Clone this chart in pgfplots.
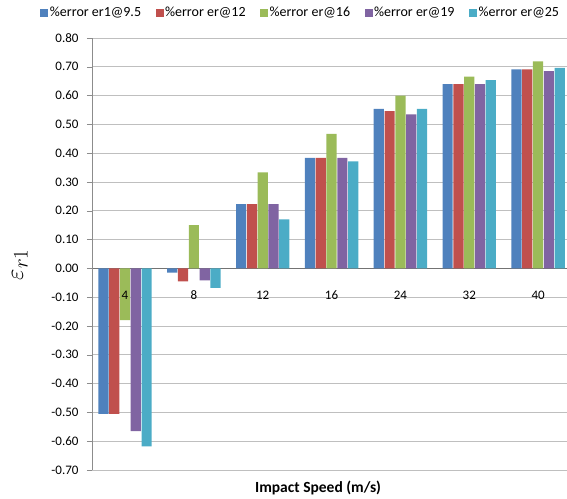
\documentclass[border=0pt]{standalone}
\usepackage{pgfplots}
\pgfplotsset{compat=1.18}
\usepackage{fontspec}
\setmainfont{Carlito}
\definecolor{c1}{HTML}{4F81BD}
\definecolor{c2}{HTML}{C0504D}
\definecolor{c3}{HTML}{9BBB59}
\definecolor{c4}{HTML}{8064A2}
\definecolor{c5}{HTML}{4BACC6}
\begin{document}
\begin{tikzpicture}
\begin{axis}[
  set layers,
  scale only axis, width=475pt, height=432pt,
  xmin=0.52, xmax=7.42, ymin=-0.7, ymax=0.8,
  ybar=0.6pt, bar width=10.2pt,
  axis x line=middle, axis y line=left,
  axis line style={-},
  x axis line style={draw=black!55},
  y axis line style={draw=black!45},
  xtick={1,...,7}, xticklabels={},
  xtick style={draw=none},
  ytick={-0.7,-0.6,-0.5,-0.4,-0.3,-0.2,-0.1,0,0.1,0.2,0.3,0.4,0.5,0.6,0.7,0.8},
  /pgf/number format/fixed, /pgf/number format/fixed zerofill,
  /pgf/number format/precision=2, /pgf/number format/assume math mode=true,
  yticklabel style={font=\fontsize{13}{15}\selectfont, xshift=-5pt},
  tick align=outside, major tick length=5pt,
  ytick style={draw=black!45},
  ymajorgrids, grid style={black!25, line width=0.8pt},
  xlabel={\textbf{Impact Speed (m/s)}},
  xlabel style={at={(axis description cs:0.476,0)}, anchor=north, yshift=-7pt, font=\fontsize{15.5}{17}\selectfont},
  ylabel={\fontsize{30}{32}\selectfont$\varepsilon_{r1}$},
  ylabel style={at={(axis description cs:-0.152,0.475)}, anchor=center},
  legend columns=5,
  legend style={draw=none, at={(axis description cs:0.439,1.058)}, anchor=center,
    font=\fontsize{14}{16}\selectfont,
    nodes={inner xsep=1.5pt},
    /tikz/every even column/.append style={column sep=13pt}},
  legend image code/.code={\fill[#1] (0pt,-4pt) rectangle (8pt,4pt);},
]
\addplot[fill=c1, draw=none] coordinates {(1,-0.505) (2,-0.015) (3,0.223) (4,0.384) (5,0.554) (6,0.640) (7,0.691)};
\addplot[fill=c2, draw=none] coordinates {(1,-0.505) (2,-0.045) (3,0.223) (4,0.384) (5,0.546) (6,0.640) (7,0.691)};
\addplot[fill=c3, draw=none] coordinates {(1,-0.180) (2,0.150) (3,0.333) (4,0.467) (5,0.600) (6,0.666) (7,0.719)};
\addplot[fill=c4, draw=none] coordinates {(1,-0.565) (2,-0.042) (3,0.223) (4,0.384) (5,0.535) (6,0.640) (7,0.685)};
\addplot[fill=c5, draw=none] coordinates {(1,-0.618) (2,-0.068) (3,0.170) (4,0.372) (5,0.554) (6,0.654) (7,0.696)};
\legend{\%error er1@9.5,\%error er@12,\%error er@16,\%error er@19,\%error er@25}
\addplot[forget plot, on layer=axis foreground, draw=none, fill=none, bar shift=0pt, bar width=0.1pt,
  point meta=explicit symbolic, nodes near coords,
  every node near coord/.style={anchor=center, yshift=-27pt, text=black, font=\fontsize{13}{15}\selectfont}]
  coordinates {(1,0) [4] (2,0) [8] (3,0) [12] (4,0) [16] (5,0) [24] (6,0) [32] (7,0) [40]};
\coordinate (sw) at (rel axis cs:0,0);
\coordinate (ne) at (rel axis cs:1,1);
\end{axis}
\pgfresetboundingbox
\path[use as bounding box] ([xshift=-92pt,yshift=-29pt]sw) rectangle ([yshift=38pt]ne);
\end{tikzpicture}
\end{document}
